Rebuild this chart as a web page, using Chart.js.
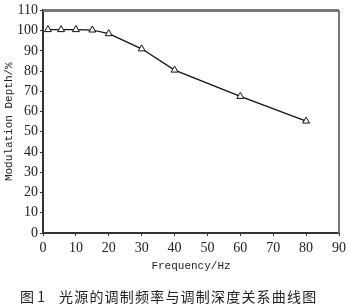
<!DOCTYPE html>
<html>
<head>
<meta charset="utf-8">
<script src="https://cdn.jsdelivr.net/npm/chart.js@4/dist/chart.umd.min.js"></script>
<style>
  html, body { margin: 0; padding: 0; background: #fff; }
  #wrap { width: 350px; height: 307px; position: relative; }
</style>
</head>
<body>
<div id="wrap"><canvas id="c"></canvas></div>
<script>
const freqs = [1.5, 5.5, 10, 15, 20, 30, 40, 60, 80];
const depths = [100.5, 100.5, 100.5, 100.3, 98.5, 91, 80.5, 67.5, 55.3];
const xTicks = { min: 0, max: 90, step: 10 };
const yTicks = { min: 0, max: 110, step: 10 };
const figLabel = '图 1';
const caption = '光源的调制频率与调制深度关系曲线图';

const frame = {
  id: 'frame',
  beforeDatasetsDraw(chart) {
    const { ctx, chartArea: a } = chart;
    ctx.save();
    ctx.strokeStyle = '#777';
    ctx.lineWidth = 3;
    ctx.beginPath();
    ctx.moveTo(a.left, a.top);
    ctx.lineTo(a.right, a.top);
    ctx.stroke();
    ctx.lineWidth = 2;
    ctx.beginPath();
    ctx.moveTo(a.right, a.top);
    ctx.lineTo(a.right, a.bottom);
    ctx.stroke();
    ctx.restore();
  },
  afterDraw(chart) {
    const ctx = chart.ctx;
    ctx.save();
    ctx.fillStyle = '#222';
    ctx.font = '14px "Noto Sans CJK SC"';
    ctx.textBaseline = 'middle';
    ctx.fillText(figLabel, 20, 297);
    // spread the caption to the width it has in the print
    [...caption].forEach((ch, i) => ctx.fillText(ch, 59 + i * 15.2, 297));
    ctx.restore();
  }
};

new Chart(document.getElementById('c').getContext('2d'), {
  type: 'line',
  data: {
    datasets: [{
      data: freqs.map((f, i) => ({ x: f, y: depths[i] })),
      borderColor: '#111',
      borderWidth: 1.2,
      fill: false,
      tension: 0,
      pointStyle: 'triangle',
      pointRadius: 4,
      pointBackgroundColor: '#fff',
      pointBorderColor: '#111',
      pointBorderWidth: 1
    }]
  },
  options: {
    responsive: true,
    maintainAspectRatio: false,
    animation: false,
    layout: { padding: { top: 10, right: 9, left: 0, bottom: 0 } },
    plugins: {
      legend: { display: false },
      tooltip: { enabled: false }
    },
    scales: {
      x: {
        type: 'linear',
        min: xTicks.min,
        max: xTicks.max,
        afterFit(scale) { scale.height = 74; },
        ticks: {
          stepSize: xTicks.step,
          color: '#222',
          padding: 4,
          maxRotation: 0,
          font: { family: 'Liberation Serif', size: 14 }
        },
        grid: { drawOnChartArea: false, tickLength: 3, color: '#333' },
        border: { color: '#333', width: 2 },
        title: {
          display: true,
          text: 'Frequency/Hz',
          color: '#222',
          font: { family: 'Liberation Mono', size: 11 },
          padding: { top: 4, bottom: 34 }
        }
      },
      y: {
        min: yTicks.min,
        max: yTicks.max,
        afterFit(scale) { scale.width = 43; },
        ticks: {
          stepSize: yTicks.step,
          color: '#222',
          padding: 2,
          font: { family: 'Liberation Serif', size: 14 }
        },
        grid: { drawOnChartArea: false, tickLength: 3, color: '#333' },
        border: { color: '#333', width: 2 },
        title: {
          display: true,
          text: 'Modulation Depth/%',
          color: '#222',
          font: { family: 'Liberation Mono', size: 11 },
          padding: { top: 2, bottom: 0 }
        }
      }
    }
  },
  plugins: [frame]
});
</script>
</body>
</html>
